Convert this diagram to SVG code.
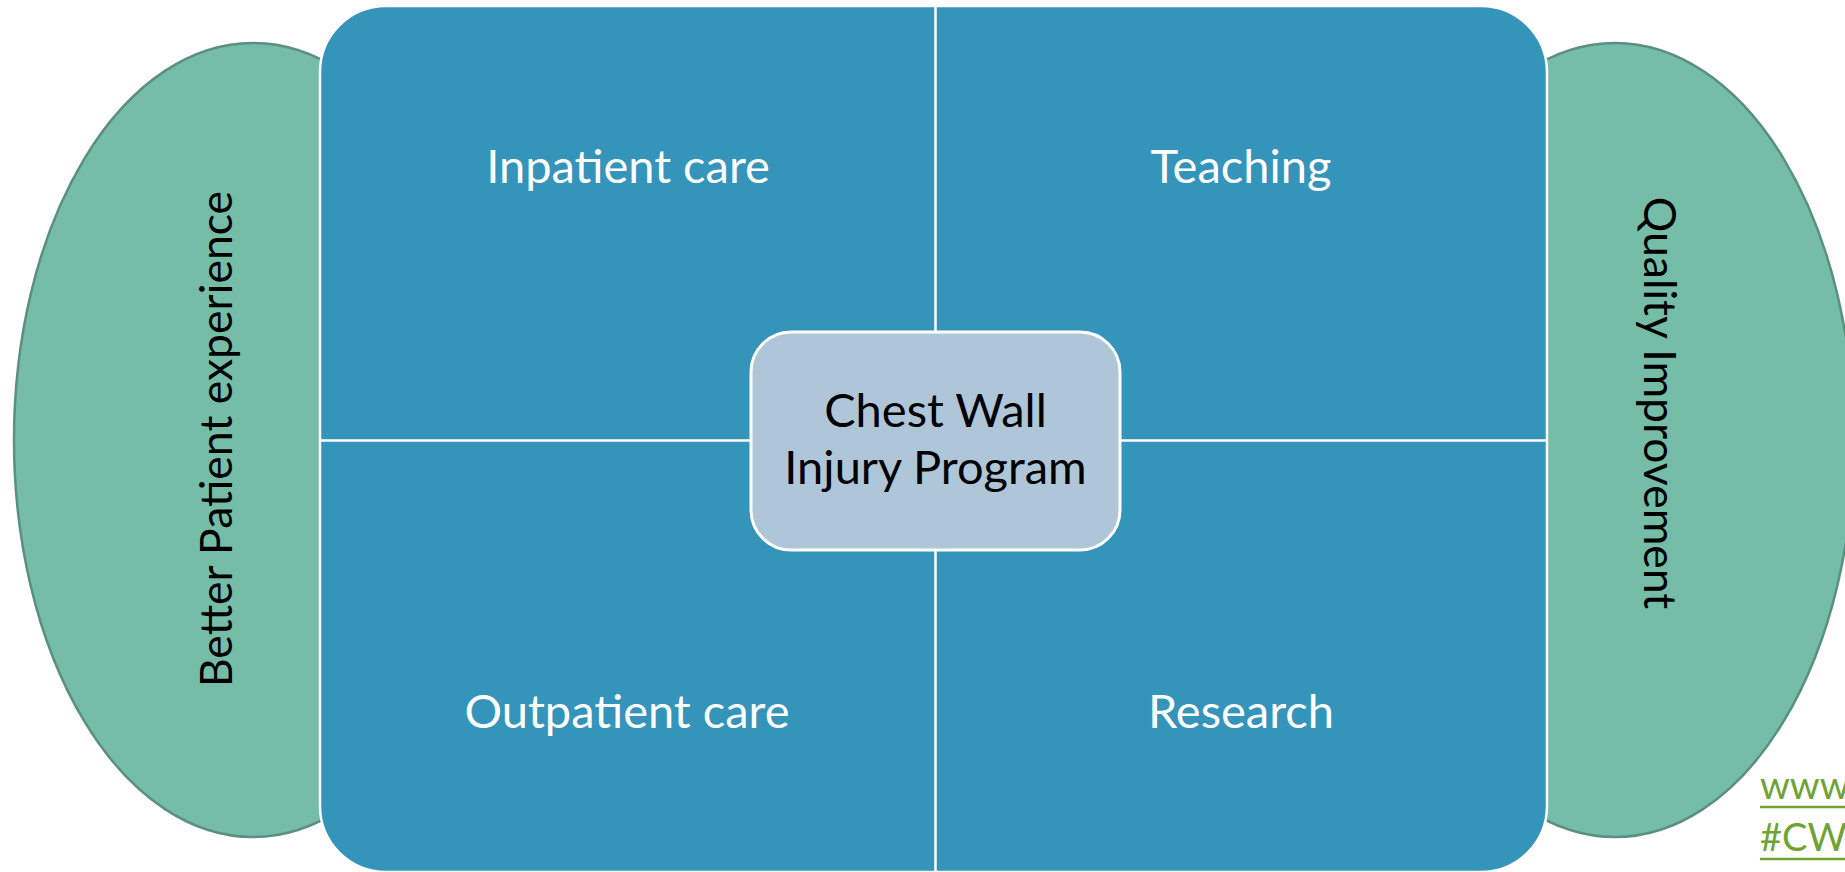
<svg xmlns="http://www.w3.org/2000/svg" width="1845" height="872" viewBox="0 0 1845 872">
  <style>
    .side { fill: #75bda7; stroke: #5b907f; stroke-width: 2.5; }
    .quad { fill: #3494ba; stroke: #ffffff; stroke-width: 2.5; }
    .div { stroke: #ffffff; stroke-width: 2.5; fill: none; }
    .center { fill: #afc6d9; stroke: #ffffff; stroke-width: 3; }
    .t { font-family: Lato, "Liberation Sans", sans-serif; font-size: 47px; text-anchor: middle; }
    .v { font-size: 44.5px; }
    .w { fill: #ffffff; }
    .k { fill: #000000; }
    .link { font-family: Lato, "Liberation Sans", sans-serif; font-size: 38px; fill: #6fa334; }
    .ul { stroke: #6fa334; stroke-width: 2.5; }
  </style>
  <rect width="1845" height="872" fill="#ffffff"/>
  <g id="better-patient-experience">
    <ellipse class="side" cx="253" cy="440" rx="239" ry="397"/>
    <text class="t v k" transform="translate(232,439) rotate(-90)">Better Patient experience</text>
  </g>
  <g id="quality-improvement">
    <ellipse class="side" cx="1615" cy="440" rx="239" ry="397"/>
    <text class="t v k" transform="translate(1644,403) rotate(90)">Quality Improvement</text>
  </g>
  <g id="quadrants">
    <rect class="quad" x="320" y="6" width="1227" height="866" rx="66" ry="66"/>
  </g>
  <g id="connectors">
    <line class="div" x1="935.5" y1="6" x2="935.5" y2="872"/>
    <line class="div" x1="320" y1="440.5" x2="1547" y2="440.5"/>
  </g>
  <g id="inpatient-care">
    <text class="t w" x="628" y="183">Inpatient care</text>
  </g>
  <g id="teaching">
    <text class="t w" x="1241" y="183">Teaching</text>
  </g>
  <g id="outpatient-care">
    <text class="t w" x="627" y="728">Outpatient care</text>
  </g>
  <g id="research">
    <text class="t w" x="1241" y="728">Research</text>
  </g>
  <g id="chest-wall-injury-program">
    <rect class="center" x="751" y="332" width="369" height="218" rx="40" ry="40"/>
    <text class="t k" x="935.5" y="427">Chest Wall</text>
    <text class="t k" x="935.5" y="484">Injury Program</text>
  </g>
  <g id="links">
    <text class="link" x="1760" y="799">www</text>
    <line class="ul" x1="1760" y1="807" x2="1845" y2="807"/>
    <text class="link" x="1760" y="851">#CWI</text>
    <line class="ul" x1="1760" y1="859" x2="1845" y2="859"/>
  </g>
</svg>
